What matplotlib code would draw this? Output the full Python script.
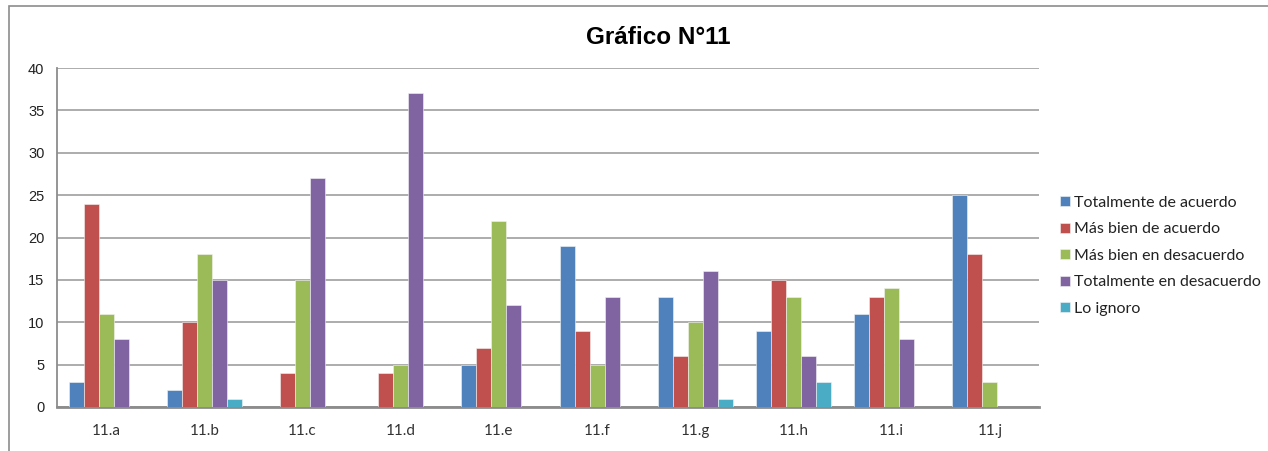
import numpy as np
import matplotlib.pyplot as plt
from matplotlib.patches import Rectangle

# Datos del gráfico
categorias = ['11.a', '11.b', '11.c', '11.d', '11.e', '11.f', '11.g', '11.h', '11.i', '11.j']
series = ['Totalmente de acuerdo', 'Más bien de acuerdo', 'Más bien en desacuerdo',
          'Totalmente en desacuerdo', 'Lo ignoro']
tot_acuerdo = [3, 2, 0, 0, 5, 19, 13, 9, 11, 25]
mas_acuerdo = [24, 10, 4, 4, 7, 9, 6, 15, 13, 18]
mas_desacuerdo = [11, 18, 15, 5, 22, 5, 10, 13, 14, 3]
tot_desacuerdo = [8, 15, 27, 37, 12, 13, 16, 6, 8, 0]
lo_ignoro = [0, 1, 0, 0, 0, 0, 1, 3, 0, 0]
valores = [tot_acuerdo, mas_acuerdo, mas_desacuerdo, tot_desacuerdo, lo_ignoro]
colores = ['#4F81BD', '#C0504D', '#9BBB59', '#8064A2', '#4BACC6']

W, H = 1268, 451
fig = plt.figure(figsize=(W / 100, H / 100), dpi=100)
ax = fig.add_axes([57 / W, 1 - 407 / H, (1039 - 57) / W, (407 - 68) / H])

x = np.arange(len(categorias))
ancho = 0.153
for i, (nombre, vals, col) in enumerate(zip(series, valores, colores)):
    ax.bar(x + (i - 2) * ancho, vals, ancho, color=col, label=nombre,
           edgecolor='#f4f4f4', linewidth=0.4, zorder=3)

ax.set_xlim(-0.5, len(categorias) - 0.5)
ax.set_ylim(0, 40)
ax.set_yticks(range(0, 41, 5))
ax.set_xticks(x)
ax.set_xticklabels(categorias, fontfamily='Lato', fontsize=11, color='#333333')
ax.tick_params(axis='y', labelsize=10.5, labelcolor='#222222', length=0, pad=9)
ax.tick_params(axis='x', length=0, pad=12)
for lbl in ax.get_yticklabels():
    lbl.set_fontfamily('Liberation Sans')

ax.grid(axis='y', color='#A6A6A6', linewidth=1.3, zorder=0)
for s in ['top', 'right']:
    ax.spines[s].set_visible(False)
ax.spines['left'].set_color('#8C8C8C')
ax.spines['left'].set_linewidth(1.3)
ax.spines['bottom'].set_color('#8C8C8C')
ax.spines['bottom'].set_linewidth(2)

fig.text(658 / W, 1 - 38 / H, 'Gráfico N°11', ha='center', va='center',
         fontsize=17.5, fontweight='bold', fontfamily='Liberation Sans')

leg = fig.legend(loc='upper left', bbox_to_anchor=(1060 / W, 1 - 196 / H),
                 frameon=False, prop={'family': 'Lato', 'size': 11.5},
                 handlelength=0.6, handleheight=0.6, handletextpad=0.3,
                 labelspacing=0.78, borderaxespad=0, borderpad=0)
for t in leg.get_texts():
    t.set_color('#222222')

# Borde del área del gráfico
fig.patches.append(Rectangle((9 / W, -0.2), 1.2, 1 - 6 / H + 0.2,
                             transform=fig.transFigure, fill=False,
                             edgecolor='#8C8C8C', linewidth=1.2))

fig.savefig('out.png', dpi=100)
